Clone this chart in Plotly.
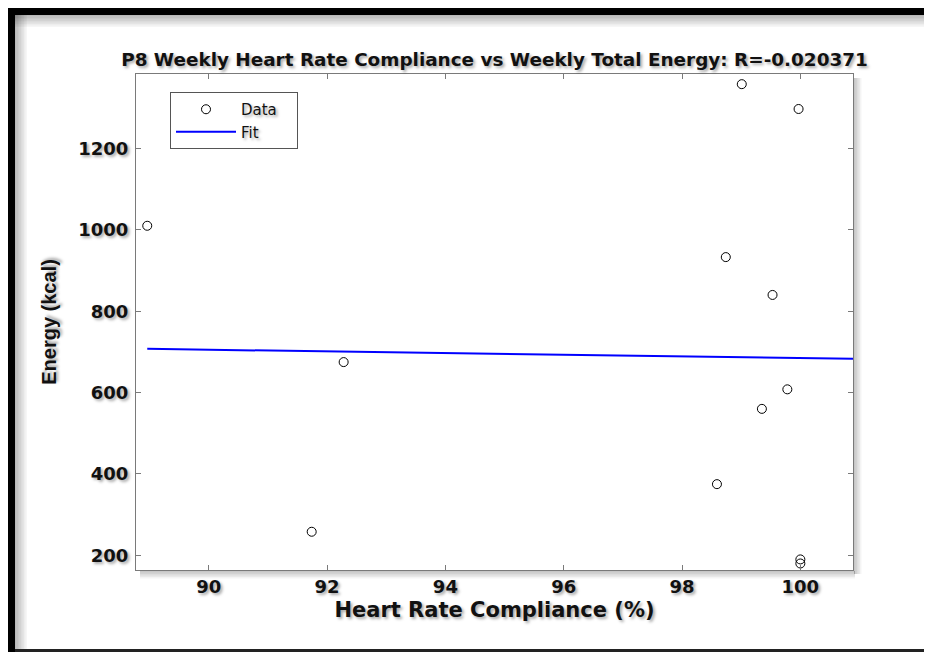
import numpy as np
import plotly.graph_objects as go

# ---- data ----
compliance = [88.96, 91.74, 92.28, 98.59, 98.74, 99.01, 99.35, 99.53, 99.78, 99.97, 100.0, 100.0]
energy = [1010, 258, 675, 375, 933, 1358, 560, 840, 608, 1297, 190, 180]
x_ticks = [90, 92, 94, 96, 98, 100]
y_ticks = [200, 400, 600, 800, 1000, 1200]
x_range = [88.77, 100.89]
y_range = [164, 1383]
title_text = "P8 Weekly Heart Rate Compliance vs Weekly Total Energy: R=-0.020371"

slope, intercept = np.polyfit(compliance, energy, 1)
fit_x = [min(compliance), x_range[1]]
fit_y = [slope * v + intercept for v in fit_x]

# page body has an 8px margin, so the figure is 8px smaller and positions are shifted
OFF = 8
W, H = 932 - OFF, 652 - OFF
L, R, T, B = 128, 79, 66, 82
PW, PH = W - L - R, H - T - B


def px(x):  # x in reference-screen pixels -> paper
    return (x - OFF - L) / PW


def py(y):  # y in reference-screen pixels -> paper
    return (H - B - (y - OFF)) / PH


SHADOW = "2px 2px 3px rgba(0,0,0,0.35)"
TXT = dict(family="DejaVu Sans", color="#111111", shadow=SHADOW)

fig = go.Figure()
fig.add_trace(go.Scatter(
    x=compliance, y=energy, mode="markers", name="Data\u00a0\u00a0\u00a0",
    marker=dict(symbol="circle-open", size=9, color="black", line=dict(width=1, color="black")),
    cliponaxis=False,
))
fig.add_trace(go.Scatter(
    x=fit_x, y=fit_y, mode="lines", name="Fit",
    line=dict(color="#0000ff", width=2),
))

shapes = []
# outer black frame (screenshot border)
shapes.append(dict(type="rect", xref="paper", yref="paper", x0=px(7), x1=px(940), y0=py(6), y1=py(15),
                   fillcolor="black", line=dict(width=0), layer="above"))
shapes.append(dict(type="rect", xref="paper", yref="paper", x0=px(7), x1=px(15), y0=py(6), y1=py(660),
                   fillcolor="black", line=dict(width=0), layer="above"))
shapes.append(dict(type="rect", xref="paper", yref="paper", x0=px(15), x1=px(940), y0=py(649), y1=py(660),
                   fillcolor="#222222", line=dict(width=0), layer="above"))
# inner soft shadow of the frame
for i in range(8):
    op = 0.28 * (1 - i / 8)
    shapes.append(dict(type="rect", xref="paper", yref="paper", x0=px(15 + i * 1.5), x1=px(16.5 + i * 1.5),
                       y0=py(15), y1=py(649), fillcolor=f"rgba(0,0,0,{op:.3f})", line=dict(width=0), layer="below"))
    shapes.append(dict(type="rect", xref="paper", yref="paper", x0=px(15), x1=px(940),
                       y0=py(15 + i * 1.5), y1=py(16.5 + i * 1.5), fillcolor=f"rgba(0,0,0,{op:.3f})",
                       line=dict(width=0), layer="below"))
# drop shadow of the axes box
for i in range(5):
    op = 0.22 * (1 - i / 5)
    shapes.append(dict(type="rect", xref="paper", yref="paper", x0=1 + (1 + i * 1.5) / PW, x1=1 + (2.5 + i * 1.5) / PW,
                       y0=-4 / PH, y1=1 - 4 / PH, fillcolor=f"rgba(0,0,0,{op:.3f})", line=dict(width=0), layer="below"))
    shapes.append(dict(type="rect", xref="paper", yref="paper", x0=4 / PW, x1=1 + 2 / PW,
                       y0=-(2.5 + i * 1.5) / PH, y1=-(1 + i * 1.5) / PH, fillcolor=f"rgba(0,0,0,{op:.3f})",
                       line=dict(width=0), layer="below"))

axis_common = dict(
    showline=True, linecolor="#7a7a7a", linewidth=1, mirror="ticks",
    ticks="inside", ticklen=5, tickcolor="#7a7a7a", tickwidth=1,
    showgrid=False, zeroline=False,
    tickfont=dict(size=18, weight="bold", **TXT),
)

fig.update_layout(
    width=W, height=H,
    margin=dict(l=L, r=R, t=T, b=B),
    paper_bgcolor="white", plot_bgcolor="white",
    title=dict(text=title_text,
               x=0.5, xref="paper", xanchor="center", y=1 - (60 - OFF) / H, yref="container", yanchor="middle",
               font=dict(size=18.4, weight="bold", **TXT)),
    xaxis=dict(range=x_range, tickvals=x_ticks, **axis_common,
               title=dict(text="Heart Rate Compliance (%)", standoff=6,
                          font=dict(size=21, weight="bold", **TXT))),
    yaxis=dict(range=y_range, tickvals=y_ticks, **axis_common, ticklabelstandoff=3,
               title=dict(text="Energy (kcal)", standoff=16,
                          font=dict(size=20, weight="bold", family="Liberation Sans", color="#111111",
                                    shadow=SHADOW))),
    legend=dict(x=px(170), y=py(92), xanchor="left", yanchor="top",
                bgcolor="white", bordercolor="#555555", borderwidth=1,
                font=dict(size=15, family="DejaVu Sans", color="#111111", shadow=SHADOW),
                itemwidth=60, tracegroupgap=0),
    shapes=shapes,
    showlegend=True,
)

fig.write_html("out.html")
